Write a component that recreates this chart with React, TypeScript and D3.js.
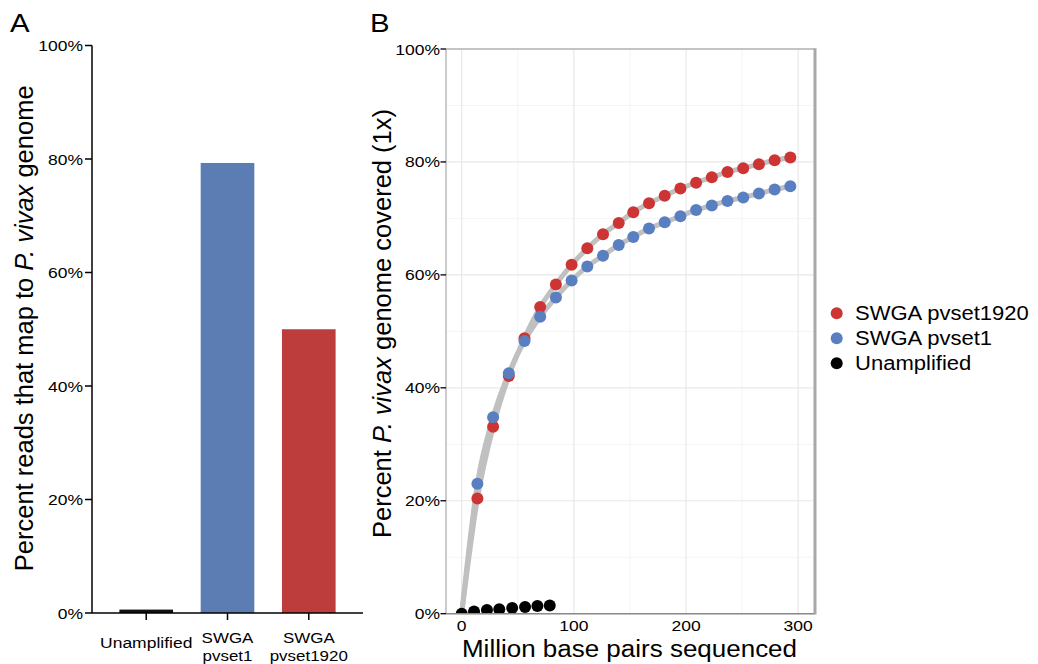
import React from 'react';
import * as d3 from 'd3';

const width = 1038;
const height = 664;
const SX = 1.13; // horizontal text stretch seen in the reference
const font = '"Liberation Sans", Arial, Helvetica, sans-serif';

// panel A: bars
const barCategories = ['Unamplified', 'SWGA pvset1', 'SWGA pvset1920'];
const barLabels = [['Unamplified'], ['SWGA', 'pvset1'], ['SWGA', 'pvset1920']];
const barValues = [0.6, 79.3, 50.0];
const barColors = ['#111111', '#5b7db3', '#bd3c3c'];
const pctTicks = [0, 20, 40, 60, 80, 100];

// panel B: coverage vs sequencing
const seqX = [14, 28, 42, 56, 70, 84, 98, 112, 126, 140, 153, 167, 181, 195, 209, 223, 237, 251, 265, 279, 293];
const pvset1920 = [20.4, 33.1, 42.1, 48.8, 54.3, 58.3, 61.8, 64.7, 67.2, 69.2, 71.1, 72.7, 74.0, 75.3, 76.3, 77.3, 78.2, 78.9, 79.6, 80.3, 80.8];
const pvset1 = [23.0, 34.8, 42.6, 48.3, 52.6, 56.0, 59.0, 61.5, 63.4, 65.3, 66.7, 68.2, 69.3, 70.4, 71.5, 72.3, 73.1, 73.7, 74.4, 75.1, 75.7];
const unampX = [0, 11, 22.5, 33.5, 45, 56.5, 67.5, 78.5];
const unampY = [0, 0.4, 0.65, 0.8, 1.0, 1.2, 1.35, 1.45];
const xTicks = [0, 100, 200, 300];
const xMinor = [50, 150, 250];
const yMinor = [10, 30, 50, 70, 90];

const legendItems = [
	{ name: 'SWGA pvset1920', color: '#cd3434' },
	{ name: 'SWGA pvset1', color: '#5a7fc1' },
	{ name: 'Unamplified', color: '#000000' }
];

const HText = ({ x, y, size, anchor = 'start', children }: any) => (
	<text
		transform={`translate(${x},${y}) scale(${SX},1)`}
		fontSize={size}
		textAnchor={anchor}
		fill="#000"
	>
		{children}
	</text>
);

export default function App() {
	// scales for panel A
	const xA = d3.scaleBand().domain(barCategories).range([92, 363]).paddingInner(0.34).paddingOuter(0.337);
	const yA = d3.scaleLinear().domain([0, 100]).range([613, 45.5]);

	// scales for panel B
	const xB = d3.scaleLinear().domain([-14, 315]).range([446, 815]);
	const yB = d3.scaleLinear().domain([0, 100]).range([613.7, 49]);

	const line = d3
		.line<[number, number]>()
		.x((d) => xB(d[0]))
		.y((d) => yB(d[1]))
		.curve(d3.curveMonotoneX);

	const redPts: [number, number][] = [[0, 0], ...seqX.map((x, i) => [x, pvset1920[i]] as [number, number])];
	const bluePts: [number, number][] = [[0, 0], ...seqX.map((x, i) => [x, pvset1[i]] as [number, number])];

	const [x0, x1] = xB.range();
	const [yb, yt] = yB.range();

	return (
		<svg width={width} height={height} style={{ position: 'absolute', left: 0, top: 0, background: '#fff' }} fontFamily={font}>
			<defs>
				<clipPath id="panelB">
					<rect x={x0} y={yt} width={x1 - x0} height={yb - yt} />
				</clipPath>
			</defs>

			{/* ---------- Panel A ---------- */}
			<HText x={10} y={32} size={26}>A</HText>

			{barCategories.map((c, i) => (
				<rect
					key={c}
					x={xA(c)}
					y={yA(barValues[i])}
					width={xA.bandwidth()}
					height={yA(0) - yA(barValues[i])}
					fill={barColors[i]}
				/>
			))}

			<line x1={92} x2={92} y1={yA(100)} y2={yA(0)} stroke="#000" strokeWidth={1.5} />
			<line x1={92} x2={363} y1={yA(0)} y2={yA(0)} stroke="#000" strokeWidth={1.5} />
			{pctTicks.map((t) => (
				<g key={t}>
					<line x1={85} x2={92} y1={yA(t)} y2={yA(t)} stroke="#000" strokeWidth={1.5} />
					<HText x={83} y={yA(t) + 5.5} size={15.5} anchor="end">{`${t}%`}</HText>
				</g>
			))}
			{barCategories.map((c, i) => {
				const cx = (xA(c) as number) + xA.bandwidth() / 2;
				const lines = barLabels[i];
				return (
					<g key={c}>
						<line x1={cx} x2={cx} y1={yA(0)} y2={yA(0) + 7} stroke="#000" strokeWidth={1.5} />
						{lines.length === 1 ? (
							<HText x={cx} y={648} size={15.5} anchor="middle">{lines[0]}</HText>
						) : (
							lines.map((l, j) => (
								<HText key={l} x={cx} y={643 + j * 17.5} size={15} anchor="middle">{l}</HText>
							))
						)}
					</g>
				);
			})}

			<text transform="translate(33.3,328.3) rotate(-90)" fontSize={25.5} textAnchor="middle">
				Percent reads that map to <tspan fontStyle="italic">P. vivax</tspan> genome
			</text>

			{/* ---------- Panel B ---------- */}
			<HText x={370} y={32} size={26}>B</HText>

			{/* grid */}
			{xMinor.map((t) => (
				<line key={'xm' + t} x1={xB(t)} x2={xB(t)} y1={yt} y2={yb} stroke="#f4f4f4" strokeWidth={1} />
			))}
			{yMinor.map((t) => (
				<line key={'ym' + t} x1={x0} x2={x1} y1={yB(t)} y2={yB(t)} stroke="#f4f4f4" strokeWidth={1} />
			))}
			{xTicks.map((t) => (
				<line key={'xg' + t} x1={xB(t)} x2={xB(t)} y1={yt} y2={yb} stroke="#e8e8e8" strokeWidth={1.2} />
			))}
			{pctTicks.map((t) => (
				<line key={'yg' + t} x1={x0} x2={x1} y1={yB(t)} y2={yB(t)} stroke="#e8e8e8" strokeWidth={1.2} />
			))}

			<g clipPath="url(#panelB)">
				<path d={line(redPts) as string} fill="none" stroke="#c0c0c0" strokeWidth={5} strokeLinejoin="round" />
				<path d={line(bluePts) as string} fill="none" stroke="#c0c0c0" strokeWidth={5} strokeLinejoin="round" />
				{seqX.map((x, i) => (
					<circle key={'r' + i} cx={xB(x)} cy={yB(pvset1920[i])} r={6} fill={legendItems[0].color} />
				))}
				{seqX.map((x, i) => (
					<circle key={'b' + i} cx={xB(x)} cy={yB(pvset1[i])} r={6} fill={legendItems[1].color} />
				))}
				{unampX.map((x, i) => (
					<circle key={'k' + i} cx={xB(x)} cy={yB(unampY[i])} r={6} fill="#000" />
				))}
			</g>

			{/* panel border */}
			<line x1={x0} x2={x0} y1={yt} y2={yb} stroke="#a8a8a8" strokeWidth={1.2} />
			<line x1={x0} x2={x1} y1={yb} y2={yb} stroke="#8a8a8a" strokeWidth={1.5} />
			<line x1={x0} x2={x1} y1={yt} y2={yt} stroke="#b5b5b5" strokeWidth={1.5} />
			<line x1={x1} x2={x1} y1={yt - 0.75} y2={yb + 0.75} stroke="#a8a8a8" strokeWidth={3} />

			{pctTicks.map((t) => (
				<g key={'yt' + t}>
					<line x1={440.5} x2={x0} y1={yB(t)} y2={yB(t)} stroke="#000" strokeWidth={1.3} />
					<HText x={440} y={yB(t) + 5.5} size={15.5} anchor="end">{`${t}%`}</HText>
				</g>
			))}
			{xTicks.map((t) => (
				<HText key={'xt' + t} x={xB(t)} y={631} size={15.5} anchor="middle">{t}</HText>
			))}

			<HText x={629.5} y={657} size={23} anchor="middle">Million base pairs sequenced</HText>
			<text transform="translate(390.5,323.5) rotate(-90)" fontSize={25.5} textAnchor="middle">
				Percent <tspan fontStyle="italic">P. vivax</tspan> genome covered (1x)
			</text>

			{/* legend */}
			{legendItems.map((d, i) => (
				<g key={d.name}>
					<circle cx={836.7} cy={313.3 + i * 25} r={6} fill={d.color} />
					<HText x={855} y={319.5 + i * 25} size={19.5}>{d.name}</HText>
				</g>
			))}
		</svg>
	);
}
